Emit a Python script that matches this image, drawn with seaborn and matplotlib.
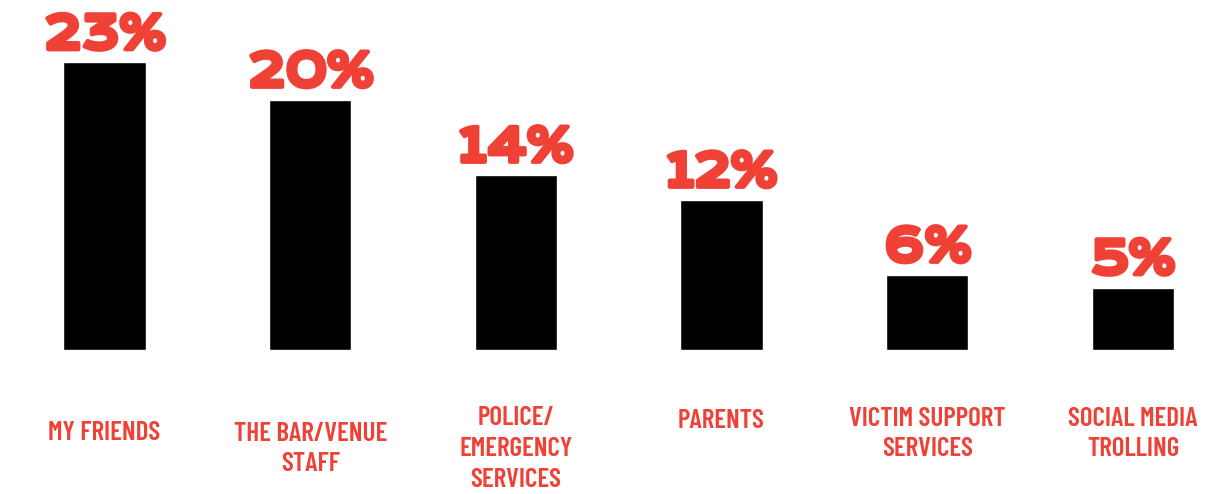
import matplotlib
matplotlib.use("Agg")
import matplotlib.pyplot as plt
import matplotlib.patheffects as pe
import seaborn as sns
import pandas as pd

# ------------------------------------------------------------
# Data
# ------------------------------------------------------------
categories = [
    "MY FRIENDS",
    "THE BAR/VENUE\nSTAFF",
    "POLICE/\nEMERGENCY\nSERVICES",
    "PARENTS",
    "VICTIM SUPPORT\nSERVICES",
    "SOCIAL MEDIA\nTROLLING",
]
values = [23, 20, 14, 12, 6, 5]

# vertical centre of each category label (data units below baseline)
label_y = [-6.64, -7.92, -7.92, -5.68, -6.72, -6.72]

RED = "#EF4136"

df = pd.DataFrame({"category": categories, "value": values})

sns.set_style("white")
plt.rcParams["font.family"] = ["DejaVu Sans"]

fig = plt.figure(figsize=(12.3, 4.94), dpi=100)
ax = fig.add_axes([0, 0, 1, 1])

sns.barplot(data=df, x="category", y="value", color="black",
            width=0.40, saturation=1, ax=ax)

ax.set_xlim(-0.508, 5.472)
ax.set_ylim(-11.52, 28)

# value labels above bars (wide face, thickened with a stroke)
heavy = [pe.withStroke(linewidth=3, foreground=RED)]
for i, v in enumerate(values):
    ax.annotate(f"{v}%", xy=(i, v), xytext=(0, 9.5), textcoords="offset points",
                ha="center", va="baseline", color=RED, fontsize=33,
                family=["Krona One", "DejaVu Sans"], path_effects=heavy)

# category labels below bars (condensed face)
for i, (cat, y) in enumerate(zip(categories, label_y)):
    ax.text(i, y, cat, ha="center", va="center", color=RED, fontsize=19.5,
            fontweight=600, linespacing=1.35,
            family=["Barlow Condensed", "DejaVu Sans"])

ax.set_xticks([])
ax.set_yticks([])
ax.set_xlabel("")
ax.set_ylabel("")
sns.despine(ax=ax, left=True, bottom=True)

plt.savefig("out.png", dpi=100)
plt.close()
